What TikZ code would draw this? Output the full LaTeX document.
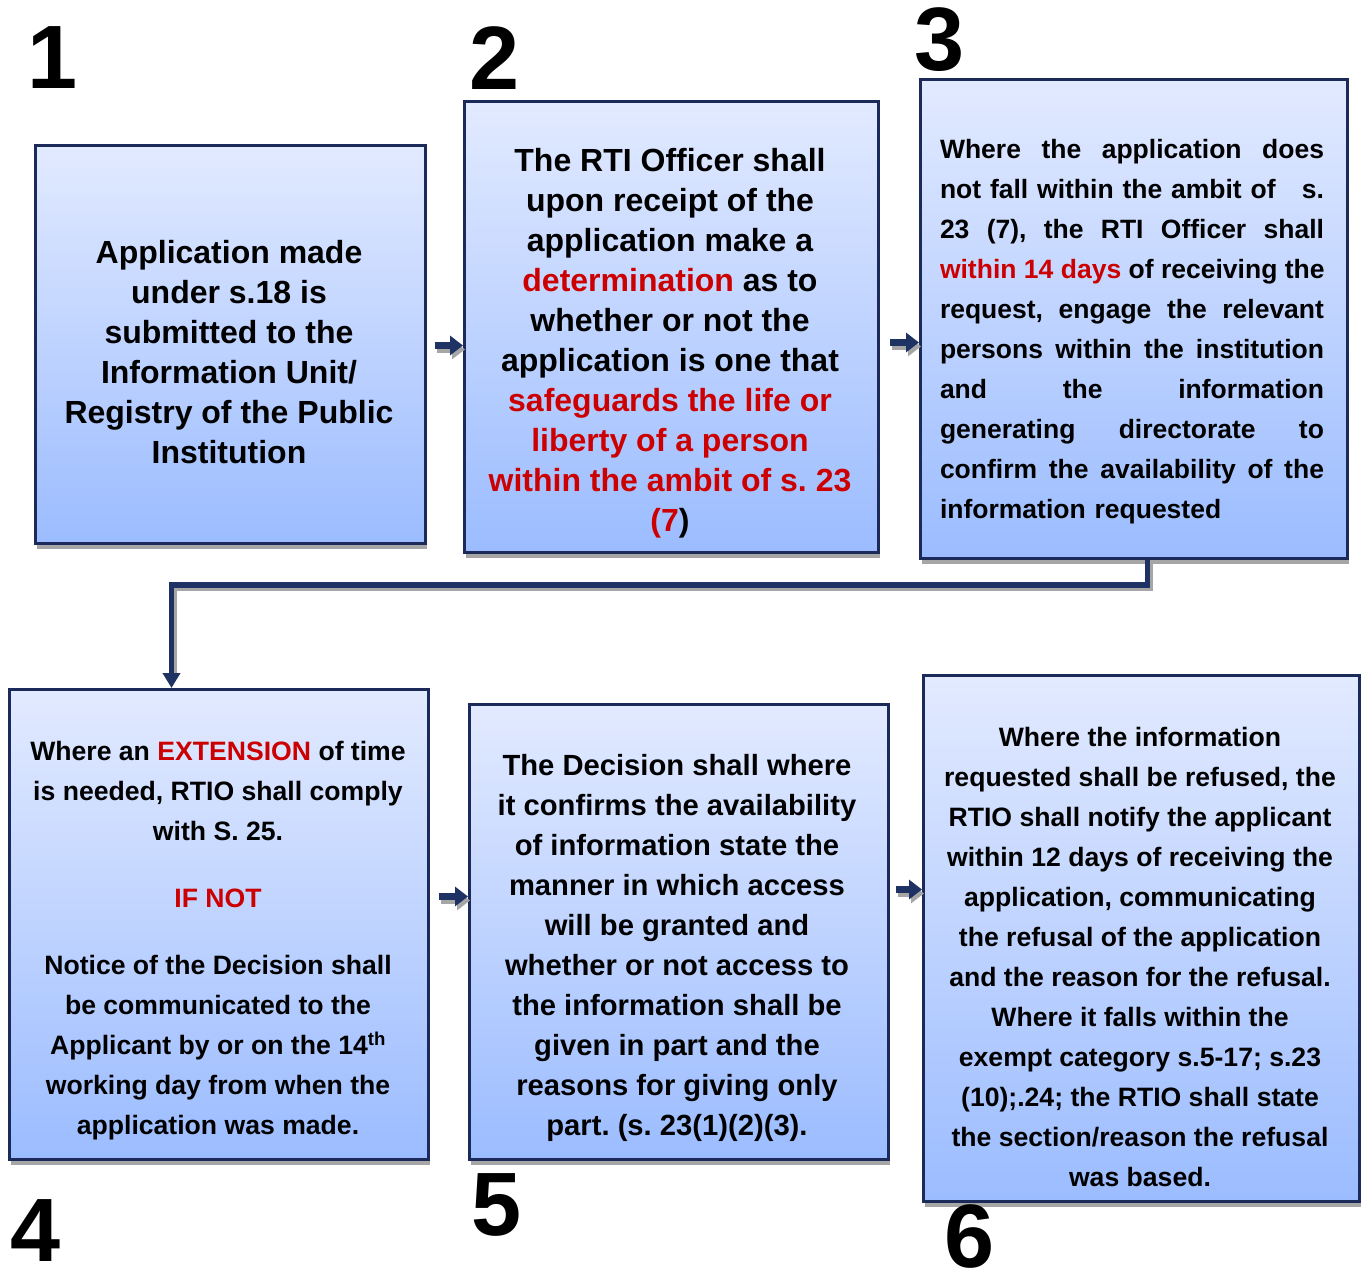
\documentclass[tikz,border=0pt]{standalone}
\usepackage{fontspec}
\setmainfont{Liberation Sans}
\usetikzlibrary{shadows,arrows.meta,calc}
\definecolor{navy}{RGB}{28,42,90}
\definecolor{arrnavy}{RGB}{31,50,100}
\definecolor{rd}{RGB}{204,0,0}
\definecolor{boxtop}{RGB}{226,234,255}
\definecolor{boxbot}{RGB}{155,188,255}
\newcommand{\rt}[1]{\textcolor{rd}{#1}}
\newcommand{\jl}[1]{\makebox[384pt][s]{\spaceskip=0.28em plus 1fil\relax #1}}
\frenchspacing
\begin{document}
\begin{tikzpicture}[x=1pt,y=-1pt,
  box/.style={draw=navy, line width=3pt, top color=boxtop, bottom color=boxbot,
    anchor=north west, inner sep=0pt,
    drop shadow={shadow xshift=1pt, shadow yshift=-5pt, fill=gray!70, opacity=1}},
  txt/.style={align=center, inner sep=0pt, font=\bfseries\frenchspacing\fontsize{#1}{40}\selectfont},
  num/.style={inner sep=0pt, font=\bfseries\fontsize{90}{90}\selectfont},
  arr/.style={arrnavy, line width=7pt, -{Triangle[length=13pt,width=19pt]}},
  arrsh/.style={gray!70, line width=7pt, -{Triangle[length=13pt,width=19pt]},
    transform canvas={xshift=2pt,yshift=-4pt}},
  conn/.style={arrnavy, line width=5.5pt, -{Triangle[length=15pt,width=17pt]}},
  connsh/.style={gray!70, line width=5.5pt, transform canvas={xshift=3pt,yshift=-3pt}}
]
\useasboundingbox[fill=white] (0,0) rectangle (1363,1279);

% boxes
\node[box, minimum width=390pt, minimum height=398pt] (b1) at (34,144) {};
\node[box, minimum width=414pt, minimum height=451pt] (b2) at (463,100) {};
\node[box, minimum width=427pt, minimum height=479pt] (b3) at (919,78) {};
\node[box, minimum width=419pt, minimum height=470pt] (b4) at (8,688) {};
\node[box, minimum width=419pt, minimum height=455pt] (b5) at (468,703) {};
\node[box, minimum width=436pt, minimum height=526pt] (b6) at (922,674) {};

% numbers
\node[num] (n1) at (53,58) {1};
\node[num] (n2) at (495,58) {2};
\node[num] (n3) at (940,40) {3};
\node[num] (n4) at (36,1231) {4};
\node[num] (n5) at (497,1205) {5};
\node[num] (n6) at (970,1237) {6};

% texts
\node[txt=32] (t1) at (229,352) {Application made\\under s.18 is\\submitted to the\\Information Unit/\\Registry of the Public\\Institution};

\node[txt=32] (t2) at (670,343) {The RTI Officer shall\\upon receipt of the\\application make a\\\rt{determination} as to\\whether or not the\\application is one that\\\rt{safeguards the life or}\\\rt{liberty of a person}\\\rt{within the ambit of s. 23}\\\rt{(7})};

\node[txt=26.5, align=left, text width=384pt] (t3) at (1132,332) {\jl{Where the application does}\\\makebox[384pt]{not fall within the ambit of\hfill s.}\\\jl{23 (7), the RTI Officer shall}\\\jl{\rt{within 14 days} of receiving the}\\\jl{request, engage the relevant}\\\jl{persons within the institution}\\\jl{and the information}\\\jl{generating directorate to}\\\jl{confirm the availability of the}\\information requested};

\node[txt=26.6] (t4) at (218,941) {Where an \rt{EXTENSION} of time\\is needed, RTIO shall comply\\with S. 25.\\[27pt]\rt{IF NOT}\\[27pt]Notice of the Decision shall\\be communicated to the\\Applicant by or on the 14\textsuperscript{th}\\working day from when the\\application was made.};

\node[txt=29.2] (t5) at (677,948) {The Decision shall where\\it confirms the availability\\of information state the\\manner in which access\\will be granted and\\whether or not access to\\the information shall be\\given in part and the\\reasons for giving only\\part. (s. 23(1)(2)(3).};

\node[txt=26.6] (t6) at (1140,957) {Where the information\\requested shall be refused, the\\RTIO shall notify the applicant\\within 12 days of receiving the\\application, communicating\\the refusal of the application\\and the reason for the refusal.\\Where it falls within the\\exempt category s.5-17; s.23\\(10);.24; the RTIO shall state\\the section/reason the refusal\\was based.};

% small arrows
\coordinate (s1) at ([yshift=-1pt]b1.east);
\coordinate (s2) at ([yshift=-15.5pt]b2.east);
\coordinate (s3) at ([yshift=28pt]b4.east);
\coordinate (s4) at ([yshift=42.5pt]b5.east);
\draw[arrsh, shorten <=8pt] (s1) -- (s1 -| b2.west);
\draw[arr, shorten <=8pt] (s1) -- (s1 -| b2.west);
\draw[arrsh, shorten <=10pt] (s2) -- (s2 -| b3.west);
\draw[arr, shorten <=10pt] (s2) -- (s2 -| b3.west);
\draw[arrsh, shorten <=9pt] (s3) -- (s3 -| b5.west);
\draw[arr, shorten <=9pt] (s3) -- (s3 -| b5.west);
\draw[arrsh, shorten <=6pt] (s4) -- (s4 -| b6.west);
\draw[arr, shorten <=6pt] (s4) -- (s4 -| b6.west);

% connector 3 -> 4
\coordinate (c1) at ([xshift=13.5pt]b3.south);
\coordinate (c2) at ([xshift=-47.5pt]b4.north);
\coordinate (h) at (0,585);
\draw[connsh] (c1) -- (c1 |- h) -- (c2 |- h) -- ([yshift=15pt]c2);
\draw[conn] (c1) -- (c1 |- h) -- (c2 |- h) -- (c2);
\end{tikzpicture}
\end{document}
